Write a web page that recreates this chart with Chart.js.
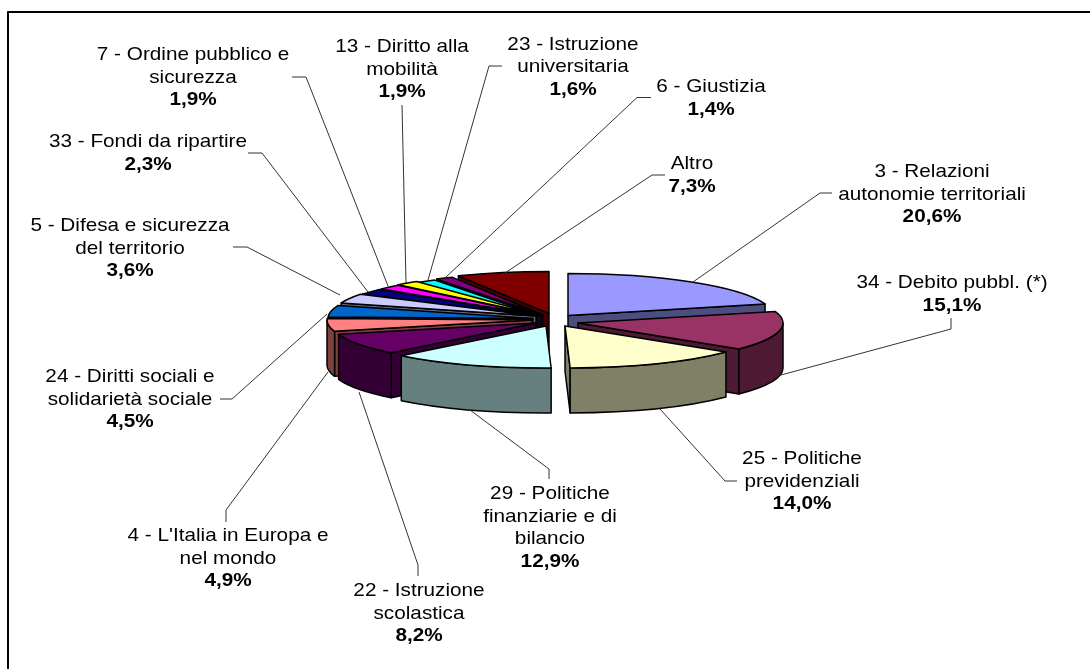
<!DOCTYPE html>
<html><head><meta charset="utf-8">
<style>html,body{margin:0;padding:0;background:#fff}canvas{display:block}</style>
<script src="https://cdn.jsdelivr.net/npm/chart.js@4"></script>
</head><body><canvas id="c" width="1090" height="669"></canvas>
<script>
const categories = ["3 - Relazioni autonomie territoriali","34 - Debito pubbl. (*)","25 - Politiche previdenziali","29 - Politiche finanziarie e di bilancio","22 - Istruzione scolastica","4 - L'Italia in Europa e nel mondo","24 - Diritti sociali e solidarietà sociale","5 - Difesa e sicurezza del territorio","33 - Fondi da ripartire","7 - Ordine pubblico e sicurezza","13 - Diritto alla mobilità","23 - Istruzione universitaria","6 - Giustizia","Altro"];
const values = [20.6,15.1,14.0,12.9,8.2,4.9,4.5,3.6,2.3,1.9,1.9,1.6,1.4,7.3];
const labelLines = [["3 - Relazioni","autonomie territoriali"],["34 - Debito pubbl. (*)"],["25 - Politiche","previdenziali"],["29 - Politiche","finanziarie e di","bilancio"],["22 - Istruzione","scolastica"],["4 - L'Italia in Europa e","nel mondo"],["24 - Diritti sociali e","solidarietà sociale"],["5 - Difesa e sicurezza","del territorio"],["33 - Fondi da ripartire"],["7 - Ordine pubblico e","sicurezza"],["13 - Diritto alla","mobilità"],["23 - Istruzione","universitaria"],["6 - Giustizia"],["Altro"]];
const colors = ["#9999FF","#993366","#FFFFCC","#CCFFFF","#660066","#FF8080","#0066CC","#CCCCFF","#000080","#FF00FF","#FFFF00","#00FFFF","#800080","#800000"];
const sideColors = ["#4D4D80","#4D1933","#808066","#668080","#330033","#804040","#003366","#666680","#000040","#800080","#808000","#008080","#400040","#400000"];
// exploded apex of every slice on the page
const apexX = [568,578,565,546,536,532,533,536,538,540,540,541,543,549];
const apexY = [315.5,323,326,326,323,320,318.5,316,316,315.5,315,316,315,313.5];
// label anchors: centre x, first baseline
const labelX = [932,952,802,550,419,228,130,130,148,193,402,573,711,692];
const labelY = [177,288,464,499,596,541,382,231,147,60,52,49.5,92,169];
// leader polylines
const leaders = [[[832,193],[820,193],[693,282]],[[951,318],[951,329],[781,375]],[[737,481],[725,481],[660,409]],[[549,479],[549,469],[470,410]],[[418,576],[418,565],[359,392]],[[226,522],[226,510],[328,372]],[[220,399],[232,399],[327,314]],[[233,247],[247,247],[340,295]],[[248,153],[262,153],[368,292]],[[292,77],[306,77],[388,286]],[[402,105],[406,283]],[[502,66],[489,66],[428,280]],[[651,97.5],[637,97.5],[445,278]],[[665,175],[652,175],[505,273]]];
const drawOrder = [13,12,11,10,9,8,7,6,5,4,0,1,2,3];
const RADIUS = 205, SQUASH = 42/205, DEPTH = 45, LINE_H = 22.5;
const FONT_PX = 18.5, STRETCH = 1.12;

function text(ctx, s, x, y, bold){
  ctx.save();
  ctx.translate(x, y); ctx.scale(STRETCH, 1);
  ctx.font = (bold ? 'bold ' : '') + FONT_PX + 'px "Liberation Sans", Arial, sans-serif';
  ctx.fillStyle = '#000'; ctx.textAlign = 'center'; ctx.textBaseline = 'alphabetic';
  ctx.fillText(s, 0, 0);
  ctx.restore();
}

const pie3d = {
  id: 'pie3d',
  beforeDatasetDraw(chart, args){
    const ctx = chart.ctx, arcs = args.meta.data;
    const stroke = () => { ctx.strokeStyle = '#000'; ctx.lineWidth = 1.5; ctx.lineJoin = 'round'; ctx.stroke(); };
    drawOrder.forEach(i => {
      const a = arcs[i], px = apexX[i], py = apexY[i];
      const s = a.startAngle, e = a.endAngle, r = a.outerRadius;
      const ry = r * SQUASH;
      const pt = t => [px + r*Math.cos(t), py + ry*Math.sin(t)];
      const wall = t => {
        const p = pt(t);
        ctx.beginPath(); ctx.moveTo(px,py); ctx.lineTo(p[0],p[1]); ctx.lineTo(p[0],p[1]+DEPTH); ctx.lineTo(px,py+DEPTH); ctx.closePath();
        ctx.fillStyle = sideColors[i]; ctx.fill(); stroke();
      };
      if (Math.cos(s) < 0) wall(s);
      if (Math.cos(e) > 0) wall(e);
      const rs = Math.max(s,0), re = Math.min(e,Math.PI);
      if (re > rs){
        ctx.beginPath();
        ctx.ellipse(px,py,r,ry,0,rs,re);
        ctx.ellipse(px,py+DEPTH,r,ry,0,re,rs,true);
        ctx.closePath();
        ctx.fillStyle = sideColors[i]; ctx.fill(); stroke();
      }
      // top face: the library's own arc element, flattened
      ctx.save();
      ctx.translate(px,py); ctx.scale(1,SQUASH); ctx.translate(-a.x,-a.y);
      a.draw(ctx);
      ctx.restore();
      ctx.beginPath(); ctx.moveTo(px,py); ctx.ellipse(px,py,r,ry,0,s,e); ctx.closePath(); stroke();
    });
    return false;
  },
  afterDraw(chart){
    const ctx = chart.ctx;
    ctx.save();
    ctx.strokeStyle = '#000'; ctx.lineWidth = 2;
    ctx.beginPath(); ctx.moveTo(8,669); ctx.lineTo(8,12); ctx.lineTo(1090,12); ctx.stroke();
    ctx.strokeStyle = '#333'; ctx.lineWidth = 1;
    leaders.forEach(l => { ctx.beginPath(); l.forEach((p,k)=> k?ctx.lineTo(p[0],p[1]):ctx.moveTo(p[0],p[1])); ctx.stroke(); });
    ctx.restore();
    labelLines.forEach((lines,i) => {
      lines.forEach((s,k) => text(ctx, s, labelX[i], labelY[i]+k*LINE_H, false));
      text(ctx, values[i].toFixed(1).replace('.',',')+'%', labelX[i], labelY[i]+lines.length*LINE_H, true);
    });
  }
};

new Chart(document.getElementById('c'), {
  type: 'pie',
  data: { labels: categories, datasets: [{ data: values, backgroundColor: colors, borderWidth: 0, radius: RADIUS }] },
  options: { responsive:false, animation:false, events:[], rotation:0,
    plugins:{ legend:{display:false}, tooltip:{enabled:false} } },
  plugins:[pie3d]
});
</script></body></html>
